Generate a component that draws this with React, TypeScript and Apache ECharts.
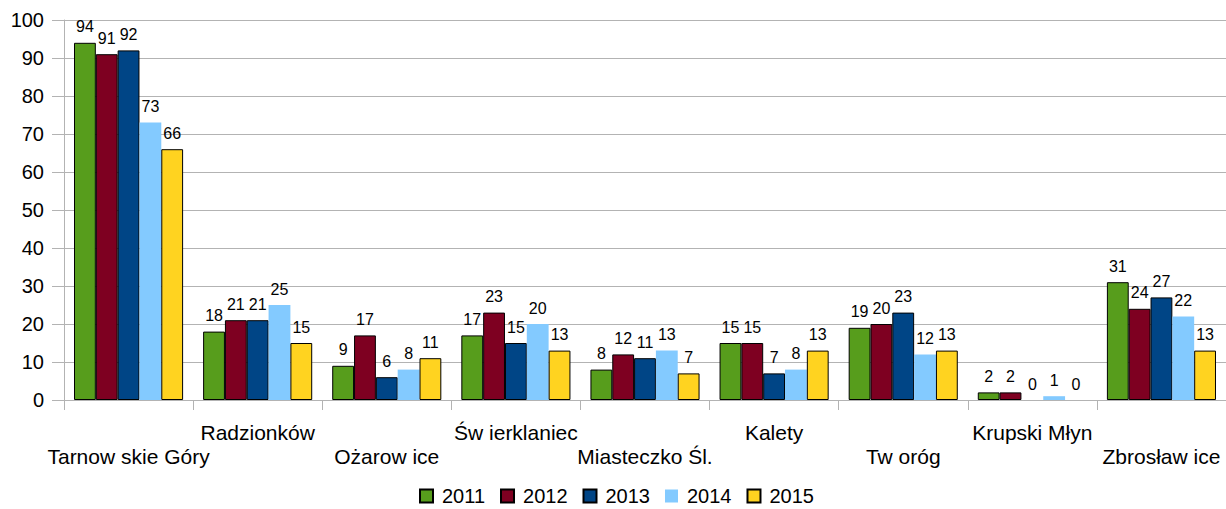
import React, { useEffect, useRef } from "react";
import * as echarts from "echarts";

const categories = [
  "Tarnow skie Góry",
  "Radzionków",
  "Ożarow ice",
  "Św ierklaniec",
  "Miasteczko Śl.",
  "Kalety",
  "Tw oróg",
  "Krupski Młyn",
  "Zbrosław ice",
];
const years = ["2011", "2012", "2013", "2014", "2015"];
const v2011 = [94, 18, 9, 17, 8, 15, 19, 2, 31];
const v2012 = [91, 21, 17, 23, 12, 15, 20, 2, 24];
const v2013 = [92, 21, 6, 15, 11, 7, 23, 0, 27];
const v2014 = [73, 25, 8, 20, 13, 8, 12, 1, 22];
const v2015 = [66, 15, 11, 13, 7, 13, 13, 0, 13];
const seriesValues = [v2011, v2012, v2013, v2014, v2015];
const colors = ["#579d1c", "#7e0021", "#004586", "#83caff", "#ffd320"];
const bordered = [true, true, true, false, true];

const FONT = "Liberation Sans";

export default function App() {
  const ref = useRef<HTMLDivElement>(null);
  useEffect(() => {
    if (!ref.current) return;
    const chart = echarts.init(ref.current, null, { renderer: "svg" });
    chart.setOption({
      animation: false,
      textStyle: { fontFamily: FONT },
      grid: { left: 64, right: -3, top: 20, bottom: 109, containLabel: false },
      legend: {
        top: 486,
        left: 419,
        padding: 0,
        itemWidth: 13,
        itemHeight: 13,
        itemGap: 15,
        icon: "rect",
        textStyle: {
          fontSize: 20,
          lineHeight: 19,
          color: "#000",
          fontFamily: FONT,
          padding: [0, 0, 0, 4],
        },
        data: years,
      },
      xAxis: {
        type: "category",
        data: categories,
        axisLine: { show: true, lineStyle: { color: "#b3b3b3" } },
        axisTick: { show: true, length: 10, lineStyle: { color: "#b3b3b3" } },
        axisLabel: {
          interval: 0,
          fontSize: 21,
          color: "#000",
          fontFamily: FONT,
          margin: 20,
          lineHeight: 24,
          formatter: (v: string, i: number) => (i % 2 === 0 ? "\n" + v : v),
        },
      },
      yAxis: {
        type: "value",
        min: 0,
        max: 100,
        interval: 10,
        axisLine: { show: true, lineStyle: { color: "#b3b3b3" } },
        axisTick: { show: true, length: 12, lineStyle: { color: "#b3b3b3" } },
        splitLine: { show: true, lineStyle: { color: "#b3b3b3" } },
        axisLabel: { fontSize: 20, color: "#000", fontFamily: FONT, margin: 20 },
      },
      series: years.map((y, k) => ({
        name: y,
        type: "bar",
        data: seriesValues[k].map((v) =>
          v === 0 ? { value: v, itemStyle: { borderWidth: 0 } } : v
        ),
        barGap: "0%",
        barCategoryGap: "15.5%",
        itemStyle: {
          color: colors[k],
          borderColor: bordered[k] ? "#000" : colors[k],
          borderWidth: bordered[k] ? 1 : 0,
        },
        label: {
          show: true,
          position: "top",
          distance: 8,
          fontSize: 16,
          color: "#000",
          fontFamily: FONT,
        },
      })),
    });
    return () => chart.dispose();
  }, []);
  return (
    <div
      ref={ref}
      style={{ position: "fixed", left: 0, top: 0, width: 1226, height: 509, background: "#fff" }}
    />
  );
}
